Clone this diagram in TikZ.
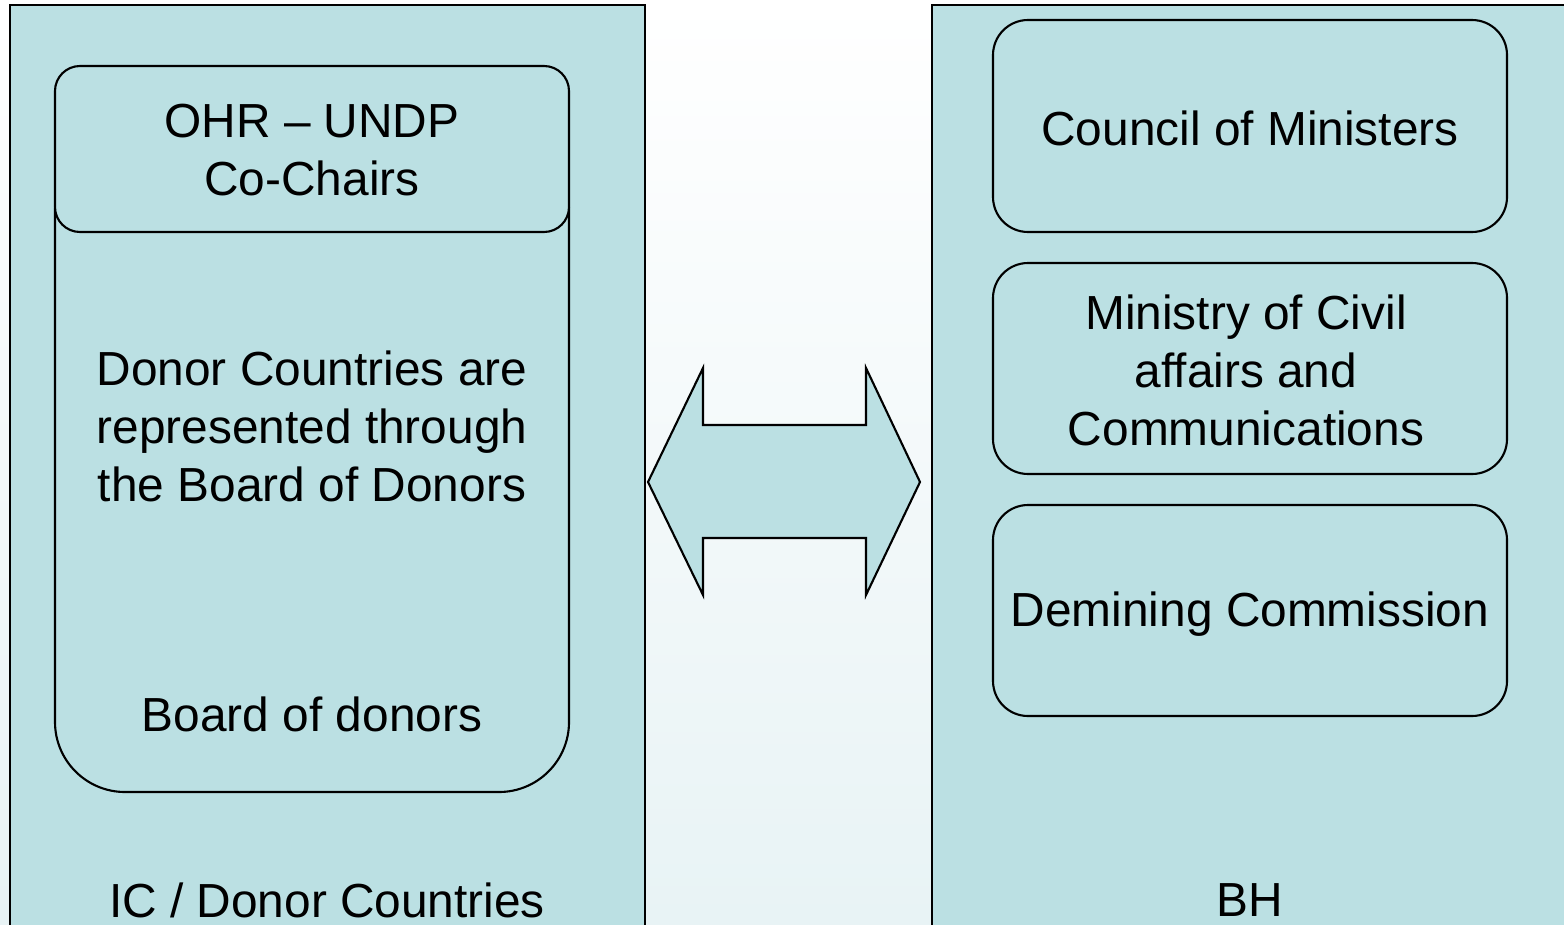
\documentclass[tikz,border=0pt]{standalone}
\usepackage{fontspec}
\setmainfont{Liberation Sans}
\usetikzlibrary{positioning,shadings}
\definecolor{panelfill}{RGB}{187,224,227}
\definecolor{bgtint}{RGB}{232,243,245}

\begin{document}
\begin{tikzpicture}[x=0.01cm, y=-0.01cm, line width=0.6pt,
	every node/.style={align=center, font=\fontsize{13.6}{16.5}\selectfont},
	side/.style={draw, fill=panelfill},
	card/.style={draw, fill=panelfill, rounded corners=0.35cm}]
	\useasboundingbox (0,0) rectangle (1564,924);
	\clip (0,0) rectangle (1564,924);
	\shade[upper left=white, upper right=white, lower left=bgtint, lower right=bgtint] (0,0) rectangle (1564,924);
	
	% IC / donor side
	\draw[side] (10,5) rectangle (645,940);
	\draw[card, rounded corners=0.7cm] (55,140) rectangle (569,792);
	\draw[card, rounded corners=0.25cm] (55,66) rectangle (569,232);
	\node (cochairs) at (312,150) {OHR – UNDP\\Co-Chairs};
	\node (donors) at (312,426) {Donor Countries are\\represented through\\the Board of Donors};
	\node (board) at (312,714) {Board of donors};
	\node (ic) at (327,900) {IC / Donor Countries};
	
	% BH side
	\draw[side] (932,5) rectangle (1580,940);
	\draw[card] (993,20) rectangle (1507,232);
	\draw[card] (993,263) rectangle (1507,474);
	\draw[card] (993,505) rectangle (1507,716);
	\node (council) at (1250,128) {Council of Ministers};
	\node (ministry) at (1246,370) {Ministry of Civil\\affairs and\\Communications};
	\node (demining) at (1250,614) {Demining Commission};
	\node (bh) at (1250,900) {BH};
	
	% two-way block arrow
	\draw[side] (648,482) -- (703,368) -- (703,425) -- (866,425) -- (866,368) -- (920,482)
		-- (866,595) -- (866,538) -- (703,538) -- (703,595) -- cycle;
\end{tikzpicture}
\end{document}
